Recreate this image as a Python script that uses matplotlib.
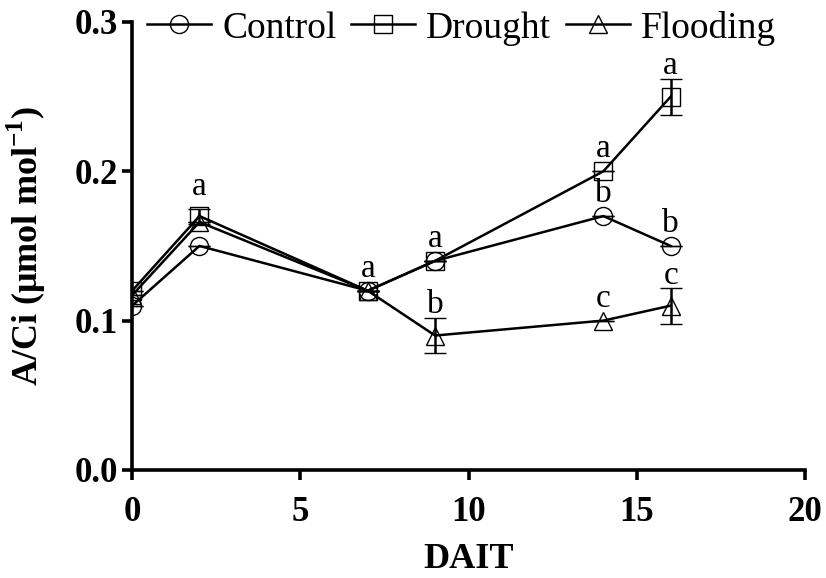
#!/usr/bin/env python3
"""
A/Ci over days after imposing treatment (DAIT).
"""

import matplotlib
matplotlib.use("Agg")
import matplotlib.pyplot as plt
from matplotlib.lines import Line2D

days = [0, 2, 7, 9, 14, 16]

control = [0.11, 0.15, 0.12, 0.14, 0.17, 0.15]
control_err = [0.0, 0.0, 0.0, 0.0, 0.0, 0.0]

drought = [0.12, 0.17, 0.12, 0.14, 0.20, 0.25]
drought_err = [0.0, 0.005, 0.0, 0.0, 0.0, 0.012]

flooding = [0.117, 0.166, 0.12, 0.09, 0.10, 0.11]
flooding_err = [0.0, 0.0, 0.0, 0.012, 0.0, 0.012]

# significance letters: (day, series, letter)
letters = [
    (2, "drought", "a"),
    (7, "drought", "a"),
    (9, "drought", "a"),
    (9, "flooding", "b"),
    (14, "drought", "a"),
    (14, "control", "b"),
    (14, "flooding", "c"),
    (16, "drought", "a"),
    (16, "control", "b"),
    (16, "flooding", "c"),
]

plt.rcParams["font.family"] = ["Liberation Serif", "DejaVu Serif"]
plt.rcParams["mathtext.fontset"] = "custom"
plt.rcParams["mathtext.rm"] = "Liberation Serif"
plt.rcParams["mathtext.bf"] = "Liberation Serif:bold"

fig = plt.figure(figsize=(8.26, 5.78), dpi=100)
ax = fig.add_axes([0.160, 0.187, 0.815, 0.775])

series = {
    "control": (control, control_err, "o", "Control"),
    "drought": (drought, drought_err, "s", "Drought"),
    "flooding": (flooding, flooding_err, "^", "Flooding"),
}

handles = []
for key, (vals, errs, marker, label) in series.items():
    ax.errorbar(days, vals, yerr=errs, color="black", marker=marker,
                markersize=13, markerfacecolor="none", markeredgewidth=1.0,
                linewidth=1.8, elinewidth=1.8, capsize=8, capthick=1.8)
    handles.append(Line2D([], [], color="black", marker=marker,
                          markersize=13, markerfacecolor="none",
                          markeredgewidth=1.0, linewidth=1.8, label=label))

for day, key, letter in letters:
    vals, errs = series[key][0], series[key][1]
    i = days.index(day)
    off = 5 if errs[i] < 0.006 else -2
    ax.annotate(letter, xy=(day, vals[i] + errs[i]), xytext=(0, off),
                textcoords="offset points", ha="center", va="bottom",
                fontsize=24)

ax.set_xlim(0, 20)
ax.set_ylim(0, 0.3)
ax.set_xticks([0, 5, 10, 15, 20])
ax.set_yticks([0.0, 0.1, 0.2, 0.3])
ax.set_yticklabels(["0.0", "0.1", "0.2", "0.3"])
ax.spines["top"].set_visible(False)
ax.spines["right"].set_visible(False)
ax.spines["left"].set_linewidth(2.6)
ax.spines["bottom"].set_linewidth(2.6)
ax.tick_params(width=2.6, length=7.5, labelsize=25)
ax.tick_params(axis="x", pad=11)
ax.tick_params(axis="y", pad=3)
for t in ax.get_xticklabels() + ax.get_yticklabels():
    t.set_fontweight("bold")

ax.set_xlabel("DAIT", fontsize=26, fontweight="bold")
ax.xaxis.set_label_coords(0.5, -0.163)
ax.set_ylabel(r"A/Ci ($\mathbf{\mu}$mol mol$^{\mathbf{-1}}$)", fontsize=26,
              fontweight="bold")
ax.yaxis.set_label_coords(-0.125, 0.5)

ax.legend(handles=handles, loc="center left",
          bbox_to_anchor=(147 / 826, 1 - 28 / 578),
          bbox_transform=fig.transFigure, ncol=3, frameon=False,
          fontsize=27, handlelength=1.7, handletextpad=0.3,
          columnspacing=0.4, borderaxespad=0.0, borderpad=0.0)

fig.savefig("out.png", dpi=100)
